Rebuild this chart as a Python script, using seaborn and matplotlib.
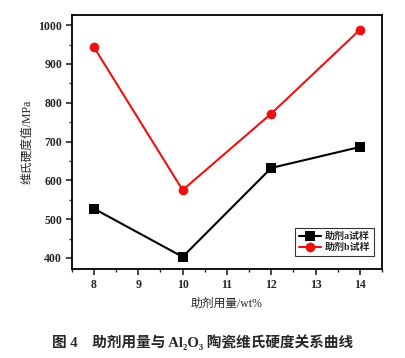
import matplotlib
matplotlib.use("Agg")
import matplotlib.pyplot as plt
import seaborn as sns
import pandas as pd
from matplotlib.ticker import MultipleLocator

dosage = [8, 10, 12, 14]
hardness_a = [527, 403, 632, 686]
hardness_b = [943, 575, 772, 988]
series_names = ["助剂a试样", "助剂b试样"]

sns.set_theme(style="ticks")
plt.rcParams['font.family'] = ['Liberation Serif', 'Noto Sans CJK SC', 'DejaVu Sans']
plt.rcParams['font.weight'] = 'bold'

df = pd.DataFrame({
    "x": dosage * 2,
    "y": hardness_a + hardness_b,
    "s": [series_names[0]] * 4 + [series_names[1]] * 4,
})

fig = plt.figure(figsize=(4.06, 3.58), dpi=100)
ax = fig.add_axes([0.177, 0.249, 0.764, 0.709])

sns.lineplot(data=df, x="x", y="y", hue="s", style="s",
             palette=["#000000", "#ee1111"], markers=["s", "o"], dashes=False,
             markersize=7, linewidth=1.5, markeredgewidth=0, ax=ax)

ax.set_xlim(7.5, 14.5)
ax.set_ylim(372, 1026)
ax.xaxis.set_major_locator(MultipleLocator(1))
ax.xaxis.set_minor_locator(MultipleLocator(0.5))
ax.yaxis.set_major_locator(MultipleLocator(100))
ax.yaxis.set_minor_locator(MultipleLocator(50))
ax.tick_params(which='major', direction='out', length=4, width=1.2, labelsize=8.5, pad=3)
ax.tick_params(which='minor', direction='out', length=2.5, width=1)
for sp in ax.spines.values():
    sp.set_visible(True)
    sp.set_linewidth(1.3)
    sp.set_color('black')
for lab in ax.get_xticklabels() + ax.get_yticklabels():
    lab.set_fontweight('bold')

ax.set_xlabel("助剂用量/wt%", fontsize=8.5, labelpad=5)
ax.set_ylabel("维氏硬度值/MPa", fontsize=8.5, labelpad=4)

leg = ax.legend(loc='lower right', fontsize=7.2, frameon=True, fancybox=False,
                edgecolor='black', borderpad=0.4, handlelength=2.2,
                handletextpad=0.3, labelspacing=0.2, bbox_to_anchor=(0.99, 0.03))
leg.get_frame().set_linewidth(0.8)

fig.text(0.5, 0.045, "图 4　助剂用量与 Al₂O₃ 陶瓷维氏硬度关系曲线",
         ha='center', va='center', fontsize=10.5, fontweight='bold')

fig.savefig("out.png", dpi=100)
